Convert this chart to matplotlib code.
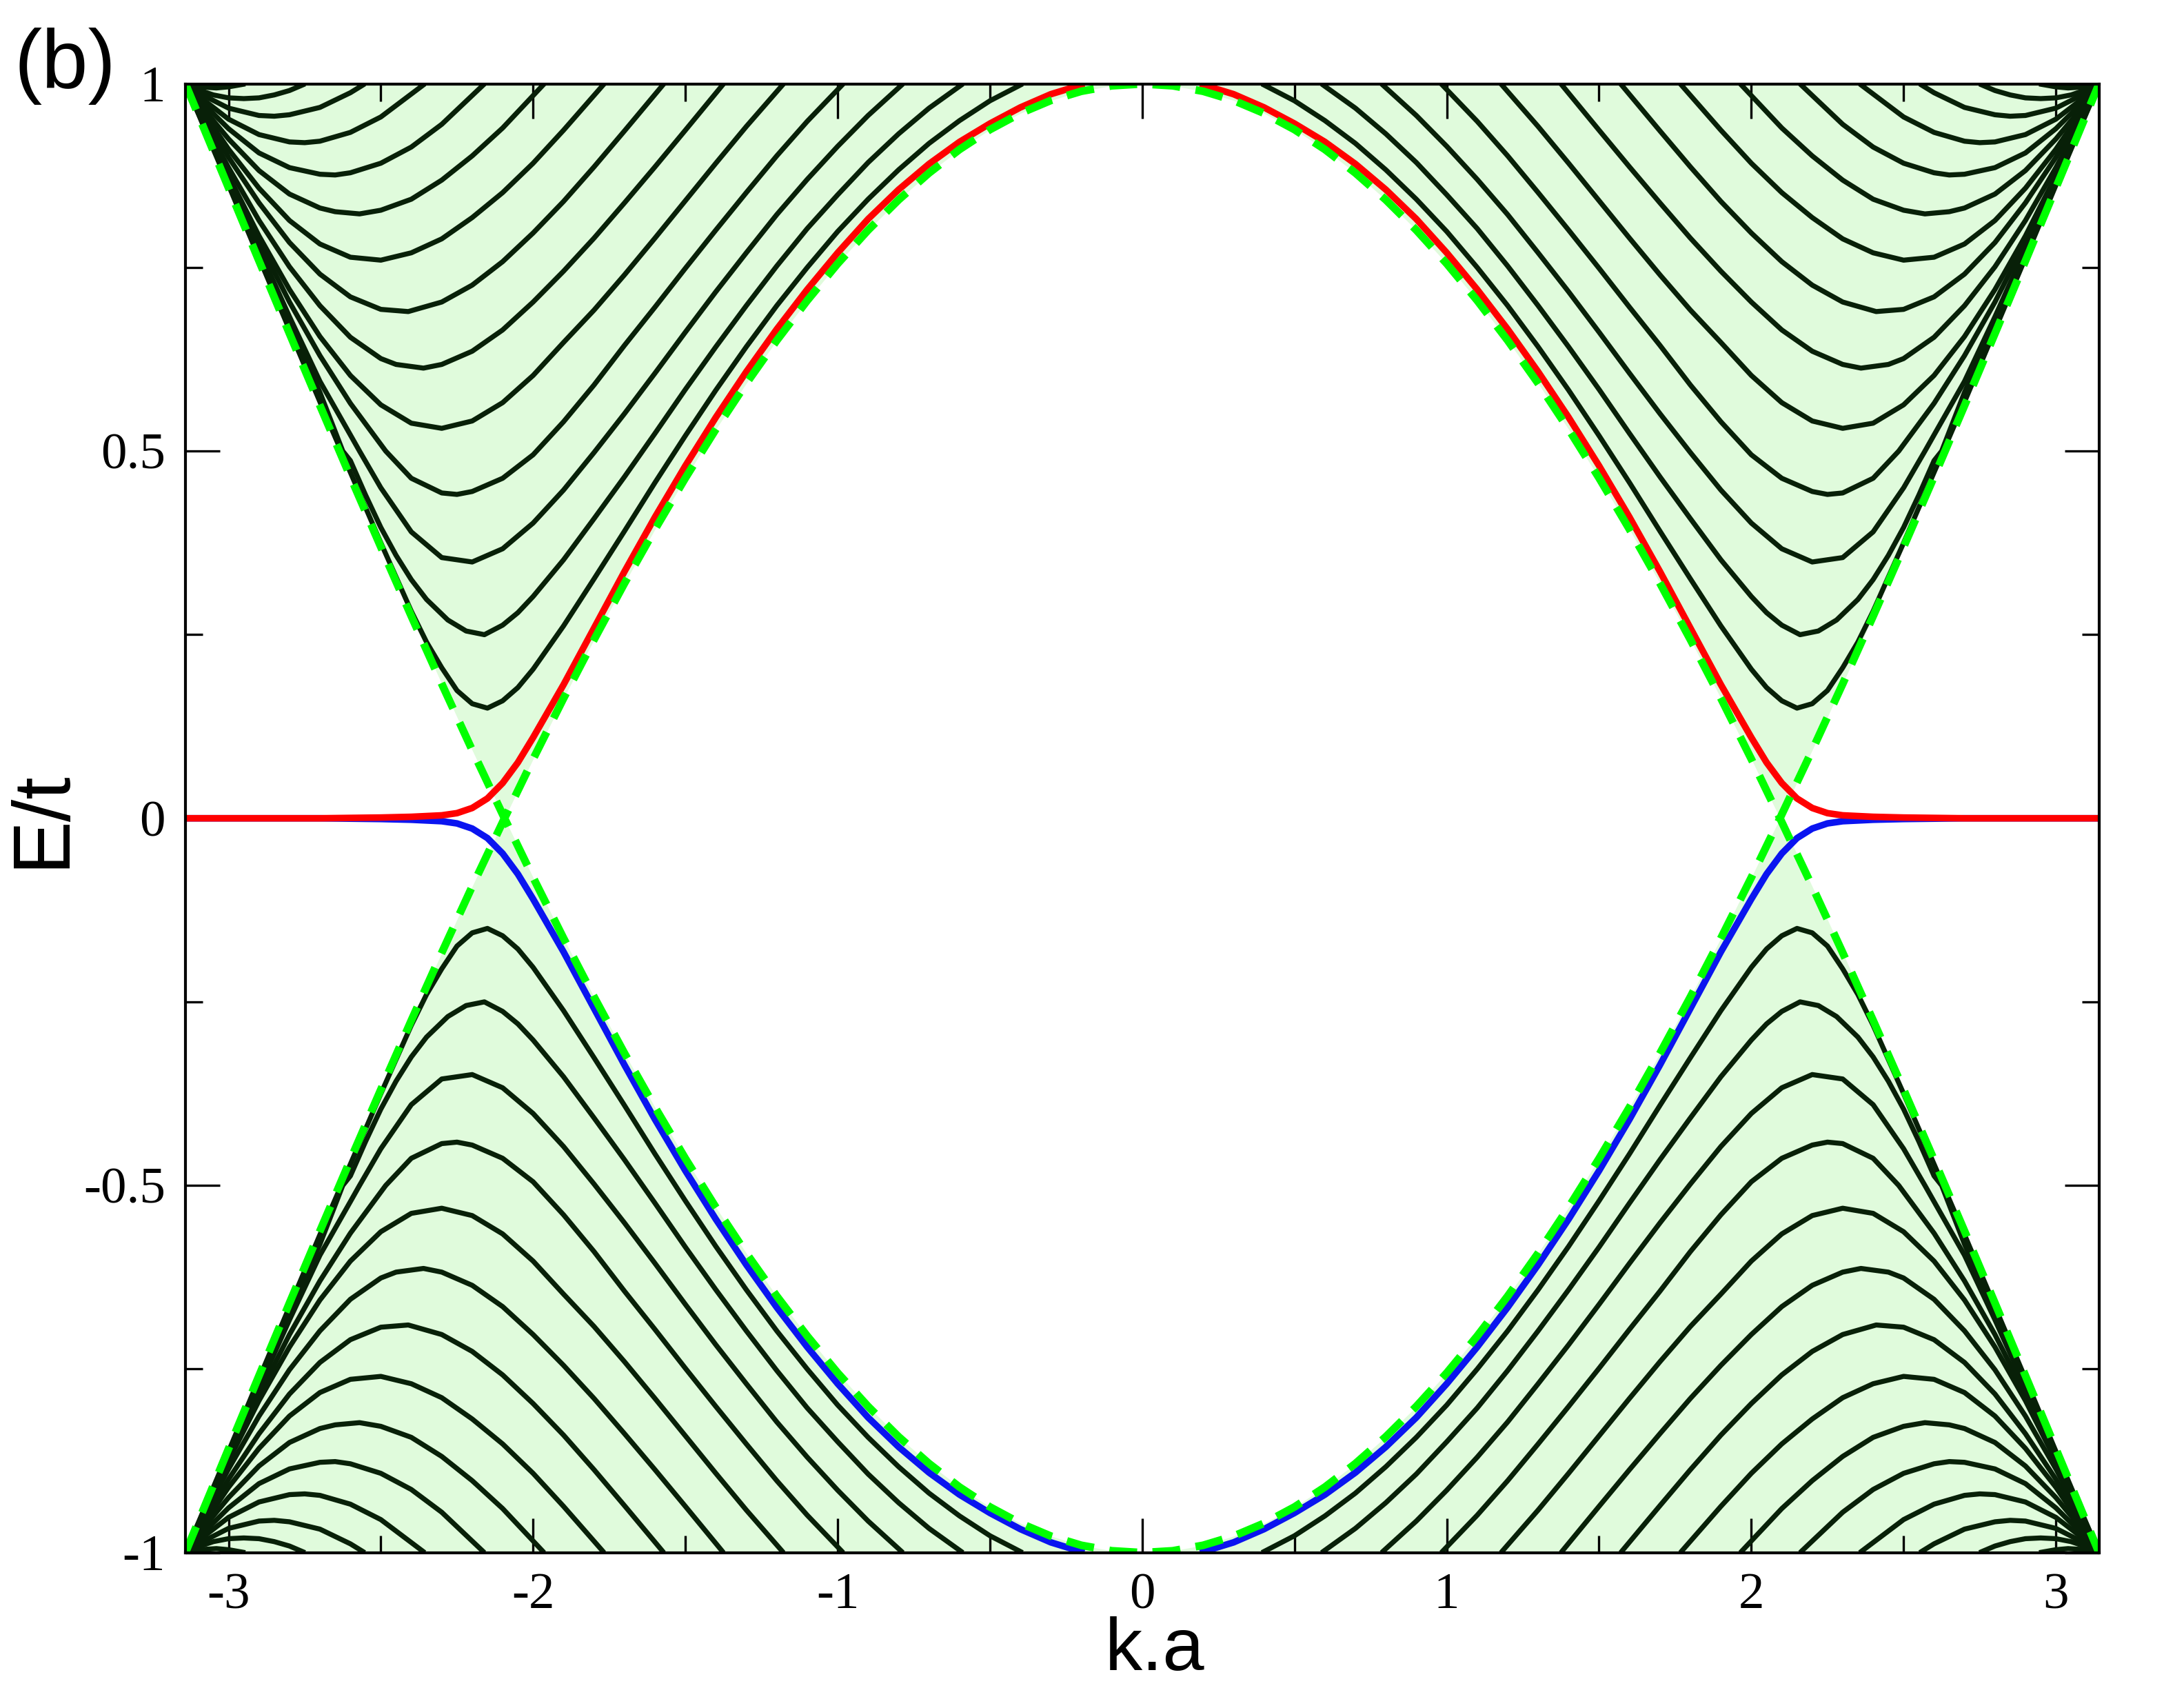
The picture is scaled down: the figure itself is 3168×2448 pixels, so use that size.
import numpy as np
import matplotlib
matplotlib.use("Agg")
import matplotlib.pyplot as plt
from matplotlib.ticker import FixedLocator, FixedFormatter

# ---------------- data (k >= 0, lower band) ----------------
# green dashed bulk edge (line going from E=1 at k=0 down to E=-1 at k=pi)
k_dash = [0.0, 0.1, 0.2, 0.3, 0.4, 0.5, 0.6, 0.7, 0.8, 0.9, 1.0, 1.1, 1.2, 1.3, 1.4, 1.5,
          1.6, 1.7, 1.8, 1.9, 2.0, 2.094, 2.2, 2.3, 2.4, 2.5, 2.6, 2.7, 2.8, 2.9, 3.0, 3.1, 3.1416]
E_dash = [1.0, 0.9975, 0.990, 0.9775, 0.960, 0.9378, 0.9107, 0.8787, 0.8421, 0.8009, 0.7552,
          0.7050, 0.6507, 0.5922, 0.5297, 0.4634, 0.3934, 0.3200, 0.2432, 0.1634, 0.0806, 0.0,
          -0.0928, -0.1830, -0.2753, -0.3694, -0.4650, -0.5620, -0.6601, -0.7590, -0.8585,
          -0.9584, -1.0]

# blue edge state (lower); the red one is its mirror image E -> -E
k_edge = [0.19, 0.3, 0.4, 0.5, 0.6, 0.7, 0.8, 0.9, 1.0, 1.1, 1.2, 1.3, 1.4, 1.5, 1.6, 1.7,
          1.8, 1.9, 2.0, 2.05, 2.1, 2.15, 2.2, 2.25, 2.3, 2.4, 2.5, 2.7, 3.1416]
E_edge = [-1.0, -0.986, -0.968, -0.946, -0.921, -0.891, -0.856, -0.816, -0.770, -0.720,
          -0.666, -0.608, -0.546, -0.480, -0.410, -0.336, -0.259, -0.182, -0.110, -0.076,
          -0.048, -0.027, -0.014, -0.007, -0.004, -0.002, -0.001, 0.0, 0.0]

# black sub-bands (lower band, k >= 0)
band01_k = [0.393, 0.5, 0.6, 0.7, 0.8, 0.9, 1.0, 1.1, 1.2, 1.3, 1.4, 1.5, 1.6, 1.7, 1.8, 1.9,
            2.0, 2.05, 2.1, 2.15, 2.2, 2.25, 2.3, 2.35, 2.4, 2.5, 2.6, 2.7, 2.8, 2.9, 3.0, 3.1, 3.1416]
band01_E = [-1.0, -0.977, -0.950, -0.919, -0.883, -0.843, -0.799, -0.750, -0.698, -0.642,
            -0.583, -0.521, -0.457, -0.391, -0.326, -0.262, -0.203, -0.178, -0.160, -0.150,
            -0.156, -0.174, -0.205, -0.240, -0.282, -0.375, -0.471, -0.567, -0.665, -0.763,
            -0.862, -0.960, -1.0]

band02_k = [0.589, 0.7, 0.8, 0.9, 1.0, 1.1, 1.2, 1.3, 1.4, 1.5, 1.6, 1.7, 1.8, 1.9, 2.0, 2.05,
            2.1, 2.16, 2.22, 2.28, 2.35, 2.4, 2.45, 2.5, 2.55, 2.6, 2.625, 2.7, 2.8, 2.9, 3.0, 3.1, 3.1416]
band02_E = [-1.0, -0.967, -0.932, -0.893, -0.849, -0.803, -0.752, -0.698, -0.642, -0.584,
            -0.524, -0.465, -0.408, -0.352, -0.302, -0.280, -0.263, -0.250, -0.255, -0.270,
            -0.298, -0.325, -0.358, -0.396, -0.440, -0.487, -0.500, -0.580, -0.674, -0.770,
            -0.866, -0.961, -1.0]

band03_k = [0.786, 0.9, 1.0, 1.1, 1.2, 1.3, 1.4, 1.5, 1.6, 1.7, 1.8, 1.9, 2.0, 2.1, 2.2, 2.3,
            2.4, 2.5, 2.57, 2.6, 2.7, 2.8, 2.9, 3.0, 3.1, 3.1416]
band03_E = [-1.0, -0.957, -0.915, -0.870, -0.822, -0.770, -0.717, -0.662, -0.606, -0.551,
            -0.498, -0.447, -0.402, -0.367, -0.349, -0.355, -0.390, -0.450, -0.500, -0.522,
            -0.595, -0.683, -0.775, -0.869, -0.962, -1.0]

band04_k = [0.982, 1.1, 1.2, 1.3, 1.4, 1.5, 1.6, 1.7, 1.8, 1.9, 2.0, 2.1, 2.2, 2.25, 2.3, 2.4,
            2.484, 2.6, 2.7, 2.8, 2.9, 3.0, 3.1, 3.1416]
band04_E = [-1.0, -0.949, -0.902, -0.852, -0.801, -0.749, -0.696, -0.644, -0.590, -0.540,
            -0.495, -0.463, -0.445, -0.441, -0.443, -0.463, -0.500, -0.565, -0.630, -0.703,
            -0.785, -0.873, -0.963, -1.0]

band05_k = [1.178, 1.3, 1.4, 1.5, 1.6, 1.7, 1.8, 1.9, 2.0, 2.1, 2.2, 2.3, 2.4, 2.5, 2.6, 2.7,
            2.8, 2.9, 3.0, 3.1, 3.1416]
band05_E = [-1.0, -0.942, -0.892, -0.841, -0.790, -0.740, -0.692, -0.648, -0.603, -0.566,
            -0.541, -0.531, -0.538, -0.563, -0.603, -0.656, -0.720, -0.793, -0.875, -0.962, -1.0]

band06_k = [1.375, 1.5, 1.6, 1.7, 1.8, 1.9, 2.0, 2.1, 2.2, 2.3, 2.36, 2.45, 2.5, 2.6, 2.7, 2.8,
            2.9, 3.0, 3.1, 3.1416]
band06_E = [-1.0, -0.937, -0.887, -0.838, -0.790, -0.745, -0.703, -0.665, -0.636, -0.618,
            -0.613, -0.618, -0.626, -0.655, -0.698, -0.751, -0.814, -0.886, -0.964, -1.0]

band07_k = [1.571, 1.7, 1.8, 1.9, 2.0, 2.1, 2.2, 2.3, 2.41, 2.5, 2.6, 2.7, 2.8, 2.9, 3.0, 3.1, 3.1416]
band07_E = [-1.0, -0.936, -0.887, -0.840, -0.797, -0.758, -0.726, -0.703, -0.690, -0.693,
            -0.710, -0.741, -0.784, -0.838, -0.900, -0.969, -1.0]

band08_k = [1.767, 1.9, 2.0, 2.1, 2.2, 2.3, 2.4, 2.5, 2.6, 2.7, 2.8, 2.9, 3.0, 3.1, 3.1416]
band08_E = [-1.0, -0.937, -0.892, -0.852, -0.818, -0.789, -0.770, -0.760, -0.764, -0.782,
            -0.814, -0.858, -0.911, -0.972, -1.0]

band09_k = [1.964, 2.1, 2.2, 2.3, 2.4, 2.5, 2.57, 2.65, 2.7, 2.8, 2.9, 3.0, 3.1, 3.1416]
band09_E = [-1.0, -0.940, -0.902, -0.869, -0.843, -0.828, -0.823, -0.826, -0.831, -0.850,
            -0.882, -0.925, -0.975, -1.0]

band10_k = [2.160, 2.3, 2.4, 2.5, 2.6, 2.65, 2.7, 2.8, 2.9, 3.0, 3.1, 3.1416]
band10_E = [-1.0, -0.945, -0.914, -0.892, -0.879, -0.876, -0.877, -0.886, -0.906, -0.939, -0.980, -1.0]

band11_k = [2.356, 2.5, 2.6, 2.7, 2.75, 2.8, 2.9, 3.0, 3.1, 3.1416]
band11_E = [-1.0, -0.955, -0.934, -0.922, -0.920, -0.921, -0.931, -0.952, -0.984, -1.0]

band12_k = [2.553, 2.6, 2.7, 2.8, 2.85, 2.9, 3.0, 3.1, 3.1416]
band12_E = [-1.0, -0.988, -0.968, -0.958, -0.956, -0.957, -0.967, -0.988, -1.0]

band13_k = [2.749, 2.8, 2.85, 2.9, 2.95, 3.0, 3.05, 3.1, 3.1416]
band13_E = [-1.0, -0.991, -0.985, -0.981, -0.980, -0.981, -0.985, -0.992, -1.0]

band14_k = [2.945, 3.0, 3.04, 3.1, 3.1416]
band14_E = [-1.0, -0.996, -0.9945, -0.996, -1.0]

x_ticks = [-3, -2, -1, 0, 1, 2, 3]
x_ticklabels = ["-3", "-2", "-1", "0", "1", "2", "3"]
y_ticks = [-1, -0.5, 0, 0.5, 1]
y_ticklabels = ["-1", "-0.5", "0", "0.5", "1"]

# ---------------- styling ----------------
col_band = "#082008"
col_fill = "#e0fbdc"
col_dash = "#00ff00"
col_red = "#ff0000"
col_blue = "#0a14f0"

bands = [(band01_k, band01_E), (band02_k, band02_E), (band03_k, band03_E),
         (band04_k, band04_E), (band05_k, band05_E), (band06_k, band06_E),
         (band07_k, band07_E), (band08_k, band08_E), (band09_k, band09_E),
         (band10_k, band10_E), (band11_k, band11_E), (band12_k, band12_E),
         (band13_k, band13_E), (band14_k, band14_E)]


def mirror_join(k, E):
    k = np.asarray(k, float)
    E = np.asarray(E, float)
    return np.concatenate([-k[::-1], k[1:]]), np.concatenate([E[::-1], E[1:]])


fig = plt.figure(figsize=(10.56, 8.16), dpi=300)
ax = fig.add_axes([0.08491, 0.08019, 0.96108 - 0.08491, 0.95029 - 0.08019])

# shaded bulk region
kf, Ef = mirror_join(k_dash, np.abs(np.asarray(E_dash)))
ax.fill_between(kf, Ef, 1.0, color=col_fill, linewidth=0, zorder=1)
ax.fill_between(kf, -1.0, -Ef, color=col_fill, linewidth=0, zorder=1)

# black sub-bands: lower band, its mirror in k, and the upper band (E -> -E)
for kb, Eb in bands:
    kb = np.asarray(kb, float)
    Eb = np.asarray(Eb, float)
    for sk in (1, -1):
        for sE in (1, -1):
            ax.plot(sk * kb, sE * Eb, color=col_band, lw=1.75, zorder=2,
                    solid_capstyle="butt", solid_joinstyle="round")

# edge states
ke = np.asarray(k_edge, float)
Ee = np.asarray(E_edge, float)
for sk in (1, -1):
    ax.plot(sk * ke, Ee, color=col_blue, lw=2.3, zorder=3, solid_capstyle="butt")
for sk in (1, -1):
    ax.plot(sk * ke, -Ee, color=col_red, lw=2.3, zorder=3.1, solid_capstyle="butt")

# dashed bulk edges
kd, Ed = mirror_join(k_dash, E_dash)
ax.plot(kd, Ed, color=col_dash, lw=2.7, ls=(0, (3.6, 2.0)), zorder=4)
ax.plot(kd, -Ed, color=col_dash, lw=2.7, ls=(0, (3.6, 2.0)), zorder=4)

ax.set_xlim(-np.pi, np.pi)
ax.set_ylim(-1, 1)

ax.xaxis.set_major_locator(FixedLocator(x_ticks))
ax.xaxis.set_major_formatter(FixedFormatter(x_ticklabels))
ax.xaxis.set_minor_locator(FixedLocator([-2.5, -1.5, -0.5, 0.5, 1.5, 2.5]))
ax.yaxis.set_major_locator(FixedLocator(y_ticks))
ax.yaxis.set_major_formatter(FixedFormatter(y_ticklabels))
ax.yaxis.set_minor_locator(FixedLocator([-0.75, -0.25, 0.25, 0.75]))

ax.tick_params(which="both", direction="in", top=True, right=True, width=0.8,
               color="black")
ax.tick_params(which="major", length=12, pad=7)
ax.tick_params(which="minor", length=6)
for lab in ax.get_xticklabels() + ax.get_yticklabels():
    lab.set_fontfamily("Liberation Serif")
    lab.set_fontsize(18)
for sp in ax.spines.values():
    sp.set_linewidth(1.0)
    sp.set_zorder(6)

fig.text(1675 / 3168, 1 - 2422 / 2448, "k.a", ha="center", va="baseline",
         fontsize=26, family="Liberation Sans")
fig.text(62 / 3168, 1 - 1188 / 2448, "E/t", ha="center", va="center",
         rotation=90, fontsize=28, family="Liberation Sans")
fig.text(20 / 3168, 1 - 40 / 2448, "(b)", ha="left", va="top",
         fontsize=29, family="Liberation Sans")

fig.savefig("out.png", dpi=300)
